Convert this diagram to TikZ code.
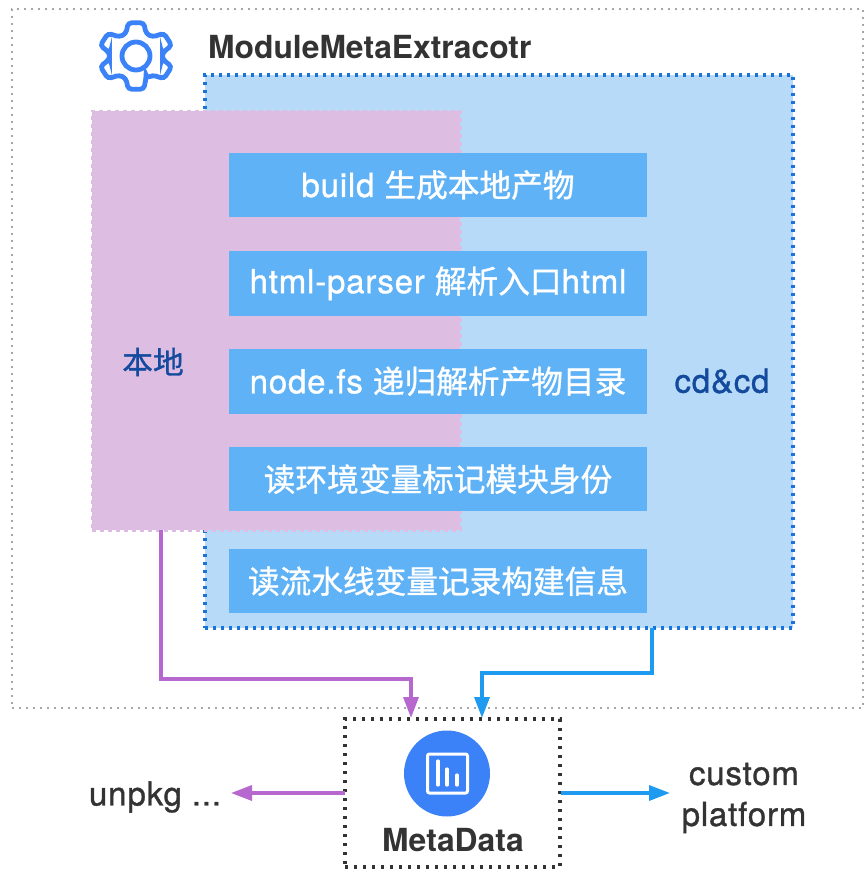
\documentclass[tikz,border=0pt]{standalone}
\usepackage{fontspec}
\setmainfont{TeX Gyre Heros}
\newfontfamily\bodyfont[LetterSpace=2.5,FakeBold=1]{TeX Gyre Heros}
\newfontfamily\cjk[Scale=0.96,FakeBold=1]{Noto Sans CJK SC}
\usepackage{xcolor}
\usetikzlibrary{arrows.meta,positioning}
\definecolor{panelblue}{HTML}{B6DAF7}
\definecolor{panelpink}{HTML}{DDBDE2}
\definecolor{stepblue}{HTML}{60B2F6}
\definecolor{dotblue}{HTML}{1A73D9}
\definecolor{iconblue}{HTML}{3B82F8}
\definecolor{flowpurple}{HTML}{B768CF}
\definecolor{flowblue}{HTML}{1E9BF0}
\definecolor{labelblue}{HTML}{134A9E}
\definecolor{textdark}{HTML}{333333}
\tikzset{
	big text/.style={font=\fontsize{33}{41}\selectfont\bodyfont, text=textdark, align=center},
	title text/.style={font=\fontsize{31.8}{36}\selectfont\bfseries, text=textdark, inner sep=0pt},
	stepbox/.style={fill=stepblue, minimum width=418pt, minimum height=64.5pt, inner sep=0pt,
		text=white, font=\fontsize{33}{36}\selectfont\bodyfont},
	panel/.style={anchor=north west, inner sep=0pt, outer sep=0pt},
	flow/.style={line width=3.4pt, -{Triangle[length=21pt,width=15pt]}},
	dotted thin/.style={line width=2.2pt, dash pattern=on 2.2pt off 4.8pt}
}
\begin{document}
\begin{tikzpicture}[x=1pt,y=-1pt]
  \useasboundingbox (0,0) rectangle (864,870);
  \node[panel, draw=black!35, dotted thin, minimum width=851pt, minimum height=699pt] (extractor) at (12,9) {};
  % gear icon
  \draw[iconblue, line width=4.8pt, rounded corners=3.5pt, shift={(136,56)}, xscale=1.03, yscale=.93]
    (68:26) \foreach \a in {90,150,...,390} { -- (\a-12:36.5) -- (\a+12:36.5) -- (\a+22:26) -- (\a+38:26)} -- cycle;
  \node[draw=iconblue, line width=4.8pt, circle, minimum size=28pt, inner sep=0pt] (gearhole) at (136,56) {};
  \node[title text, anchor=west] (title) at (208,47) {ModuleMetaExtracotr};
  % panels
  \node[panel, fill=panelblue, draw=dotblue, line width=3.4pt, dash pattern=on 3.4pt off 4.6pt, minimum width=588pt, minimum height=553pt] (cicd) at (205,75) {};
  \node[panel, fill=panelpink, draw=panelpink, line width=3pt, dash pattern=on 4pt off 4pt, minimum width=368pt, minimum height=419pt] (local) at (92,111) {};
  \node[stepbox] (build) at (438,185) {build \cjk 生成本地产物};
  \node[stepbox, below=33.5pt of build] (parser) {html-parser \cjk 解析入口{\bodyfont html}};
  \node[stepbox, below=33pt of parser] (nodefs) {node.fs \cjk 递归解析产物目录};
  \node[stepbox, below=33pt of nodefs] (envvar) {\cjk 读环境变量标记模块身份};
  \node[stepbox, below=37pt of envvar] (pipeline) {\cjk 读流水线变量记录构建信息};
  \node[big text, text=labelblue, font=\fontsize{32}{36}\selectfont\cjk] (locallabel) at (153,362) {本地};
  \node[big text, text=labelblue] (cicdlabel) at (722,381) {cd\&cd};
  % metadata
  \node[panel, draw=textdark, line width=3.4pt, dash pattern=on 3.4pt off 5.6pt, minimum width=215pt, minimum height=148pt] (metadata) at (345,719) {};
  \node[fill=iconblue, circle, minimum size=86pt, inner sep=0pt] (metaicon) at (447,773.5) {};
  \draw[white, line width=3pt, rounded corners=2pt] (427.5,754) rectangle (467.5,793);
  \draw[white, line width=3.2pt, line cap=round] (438,761) -- (438,785) (447,769) -- (447,785) (457,775) -- (457,785);
  \node[title text] (metalabel) at (453,840) {MetaData};
  \node[big text] (unpkg) at (155,797) {unpkg ...};
  \node[big text] (custom) at (744,798) {custom\\platform};
  % connectors
  \coordinate (localout) at (161,530);
  \coordinate (cicdout) at (652,628);
  \coordinate (metain1) at (411,718);
  \coordinate (metain2) at (482,718);
  \coordinate (metaleft) at (345,793);
  \coordinate (metaright) at (561,793);
  \coordinate (unpkgin) at (231,793);
  \coordinate (customin) at (670,793);
  \draw[flow, flowpurple] (localout) -- (localout |- 0,679) -- (metain1 |- 0,679) -- (metain1);
  \draw[flow, flowblue] (cicdout) -- (cicdout |- 0,673) -- (metain2 |- 0,673) -- (metain2);
  \draw[flow, flowpurple] (metaleft) -- (unpkgin);
  \draw[flow, flowblue] (metaright) -- (customin);
\end{tikzpicture}
\end{document}
